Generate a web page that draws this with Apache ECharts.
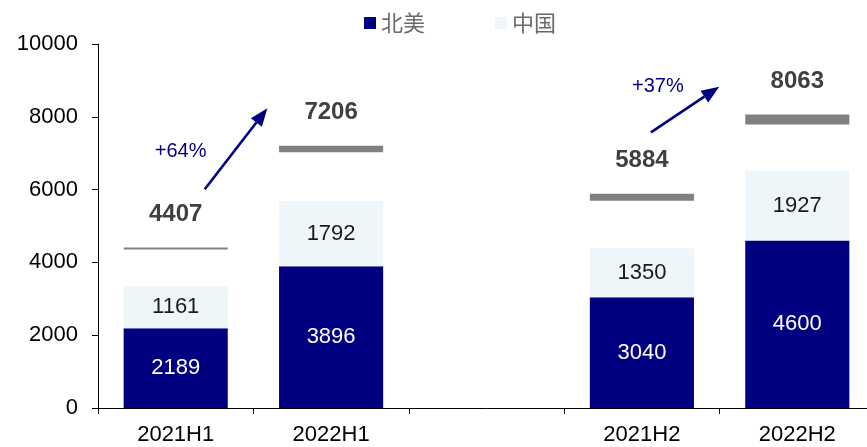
<!DOCTYPE html>
<html>
<head>
<meta charset="utf-8">
<script src="https://cdn.jsdelivr.net/npm/echarts@6/dist/echarts.min.js"></script>
<style>
  html, body { margin: 0; padding: 0; background: #fff; overflow: hidden; }
  /* canvas runs past the right edge so the last category is cut by the frame */
  #chart { width: 875px; height: 447px; }
</style>
</head>
<body>
<div id="chart"></div>
<script>
// Half-year categories; the empty slot separates the H1 pair from the H2 pair
const categories = ['2021H1', '2022H1', '', '2021H2', '2022H2'];
const northAmerica = [2189, 3896, '-', 3040, 4600];
const china = [1161, 1792, '-', 1350, 1927];
// Overall totals shown as grey bars above each stack
const totals = [4407, 7206, '-', 5884, 8063];
const yTicks = { min: 0, max: 10000, interval: 2000 };

// Growth annotations: [from category, to category, label]
const growth = [
  { from: 0, to: 1, text: '+64%' },
  { from: 3, to: 4, text: '+37%' }
];

// Thickness (px) of each total marker
const totalBarThickness = [2, 6.5, 0, 7, 10];

const FONT = '"Liberation Sans", Arial, sans-serif';
const NAVY = '#000080';
const LIGHT = '#EFF6F9';
const BAR_RATIO = 0.67;

const chart = echarts.init(document.getElementById('chart'));

const totalData = [];
categories.forEach((c, i) => {
  if (totals[i] !== '-') totalData.push([i, totals[i]]);
});

chart.setOption({
  animation: false,
  textStyle: { fontFamily: FONT },
  legend: {
    data: ['北美', '中国'],
    top: 7,
    left: 359,
    icon: 'rect',
    itemWidth: 12,
    itemHeight: 12,
    itemGap: 70,
    textStyle: { fontFamily: '"Noto Sans CJK SC", sans-serif', fontSize: 22, color: '#6a6a6a' }
  },
  grid: { left: 98, top: 44, bottom: 39, right: 0 },
  xAxis: {
    type: 'category',
    data: categories,
    axisLine: { lineStyle: { color: '#000', width: 1 } },
    axisTick: { show: true, length: 6, lineStyle: { color: '#000' } },
    axisLabel: { fontSize: 22, color: '#000', margin: 16, fontFamily: FONT }
  },
  yAxis: {
    type: 'value',
    min: yTicks.min,
    max: yTicks.max,
    interval: yTicks.interval,
    splitLine: { show: false },
    axisLine: { show: true, lineStyle: { color: '#000', width: 1 } },
    axisTick: { show: true, length: 6, lineStyle: { color: '#000' } },
    axisLabel: { fontSize: 22, color: '#000', margin: 20, fontFamily: FONT, formatter: v => String(v) }
  },
  series: [
    {
      name: '北美',
      type: 'bar',
      stack: 'region',
      barWidth: (BAR_RATIO * 100) + '%',
      data: northAmerica,
      itemStyle: { color: NAVY },
      label: { show: true, position: 'inside', fontSize: 22, color: '#fff', fontFamily: FONT }
    },
    {
      name: '中国',
      type: 'bar',
      stack: 'region',
      barWidth: (BAR_RATIO * 100) + '%',
      data: china,
      itemStyle: { color: LIGHT },
      label: { show: true, position: 'inside', fontSize: 22, color: '#1a1a1a', fontFamily: FONT }
    },
    {
      name: '合计',
      type: 'custom',
      data: totalData,
      z: 5,
      renderItem(params, api) {
        const idx = api.value(0);
        const p = api.coord([idx, api.value(1)]);
        const w = api.size([1, 0])[0] * BAR_RATIO;
        const t = totalBarThickness[idx];
        return {
          type: 'group',
          children: [
            { type: 'rect', shape: { x: p[0] - w / 2, y: p[1], width: w, height: t }, style: { fill: '#808080' } },
            { type: 'text', style: { text: String(api.value(1)), x: p[0], y: p[1] - 33, align: 'center', verticalAlign: 'middle', font: 'bold 24px ' + FONT, fill: '#404040' } }
          ]
        };
      }
    }
  ]
});

// Arrows between consecutive totals, placed relative to the axes
function drawGrowth() {
  const band = chart.convertToPixel({ xAxisIndex: 0 }, 1) - chart.convertToPixel({ xAxisIndex: 0 }, 0);
  const px = (i, frac) => chart.convertToPixel({ xAxisIndex: 0 }, i) + frac * band;
  const py = v => chart.convertToPixel({ yAxisIndex: 0 }, v);
  const elems = [];
  growth.forEach(g => {
    const first = g.from === 0;
    // start just above the earlier label, end just left of the later label
    const x0 = first ? px(g.from, 0.187) : px(g.from, 0.058);
    const y0 = first ? py(6008) : py(7574);
    const x1 = first ? px(g.from, 0.59) : px(g.from, 0.498);
    const y1 = first ? py(8234) : py(8827);
    const ang = Math.atan2(y1 - y0, x1 - x0);
    const L = 18, W = 7;
    const bx = x1 - L * Math.cos(ang), by = y1 - L * Math.sin(ang);
    const nx = -Math.sin(ang) * W, ny = Math.cos(ang) * W;
    elems.push({
      type: 'line',
      shape: { x1: x0, y1: y0, x2: bx, y2: by },
      style: { stroke: NAVY, lineWidth: 2.6 }
    });
    elems.push({
      type: 'polygon',
      shape: { points: [[x1, y1], [bx + nx, by + ny], [bx - nx, by - ny]] },
      style: { fill: NAVY }
    });
    const lx = first ? px(g.from, 0.032) : px(g.from, 0.103);
    const ly = first ? py(7041) : py(8846);
    elems.push({
      type: 'text',
      style: { text: g.text, x: lx, y: ly, align: 'center', verticalAlign: 'middle', font: '20px ' + FONT, fill: NAVY }
    });
  });
  chart.setOption({ graphic: elems });
}
drawGrowth();
</script>
</body>
</html>
